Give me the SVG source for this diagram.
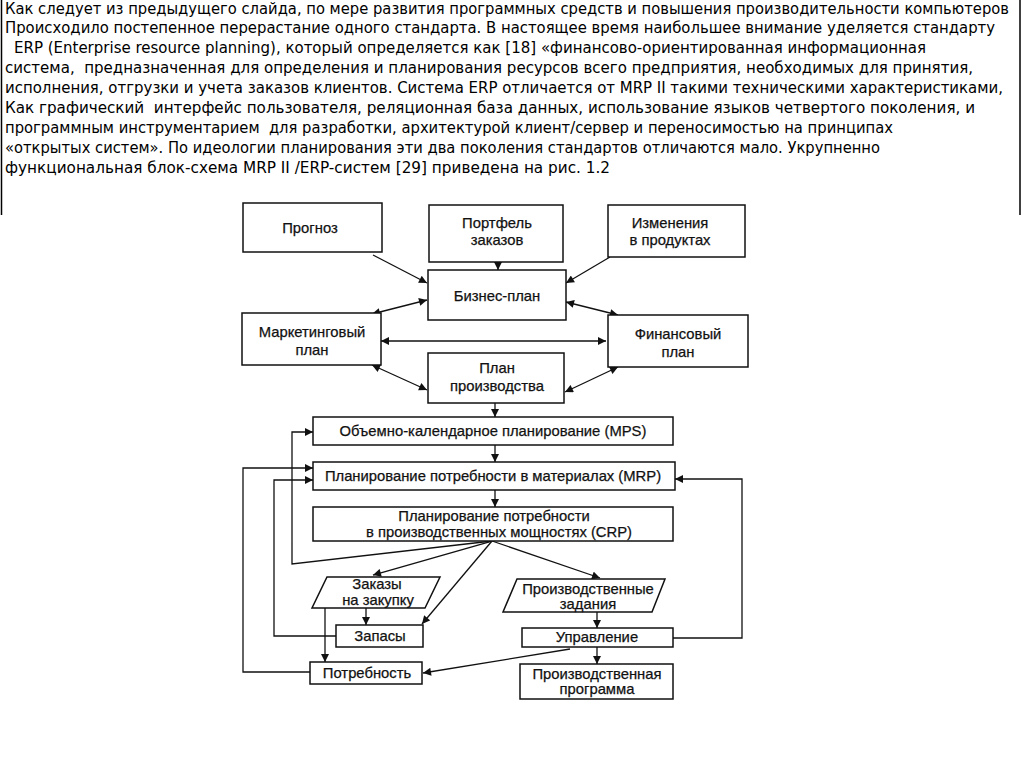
<svg xmlns="http://www.w3.org/2000/svg" width="1024" height="768" viewBox="0 0 1024 768">
<defs>
<style>
.p{font-family:"DejaVu Sans Condensed","Liberation Sans",sans-serif;font-stretch:condensed;font-size:15.5px;fill:#000}
.t{font-family:"Liberation Sans",Arial,sans-serif;font-size:14.8px;fill:#111;stroke:#111;stroke-width:0.25;text-anchor:middle}
.b{fill:#fff;stroke:#111;stroke-width:1.5}
.c{fill:none;stroke:#111;stroke-width:1.3}
</style>
<marker id="a" viewBox="0 0 10 10" refX="10" refY="5" markerWidth="9" markerHeight="8" markerUnits="userSpaceOnUse" orient="auto-start-reverse">
<path d="M0,0 L10,5 L0,10 z" fill="#111"/>
</marker>
</defs>
<rect width="1024" height="768" fill="#fff"/>
<g id="frame" stroke="#000" stroke-width="1.5">
<line x1="1.5" y1="0" x2="1.5" y2="215"/>
<line x1="1020" y1="0" x2="1020" y2="215"/>
</g>
<g id="paragraph">
<text class="p" x="5" y="14" textLength="1004" lengthAdjust="spacingAndGlyphs">Как следует из предыдущего слайда, по мере развития программных средств и повышения производительности компьютеров</text>
<text class="p" x="5" y="33" textLength="990" lengthAdjust="spacingAndGlyphs">Происходило постепенное перерастание одного стандарта. В настоящее время наибольшее внимание уделяется стандарту</text>
<text class="p" x="14" y="53" textLength="912" lengthAdjust="spacingAndGlyphs">ERP (Enterprise resource planning), который определяется как [18] «финансово-ориентированная информационная</text>
<text class="p" x="5" y="73" textLength="968" lengthAdjust="spacingAndGlyphs" xml:space="preserve">система,  предназначенная для определения и планирования ресурсов всего предприятия, необходимых для принятия,</text>
<text class="p" x="5" y="93" textLength="998" lengthAdjust="spacingAndGlyphs">исполнения, отгрузки и учета заказов клиентов. Система ERP отличается от MRP II такими техническими характеристиками,</text>
<text class="p" x="5" y="113" textLength="970" lengthAdjust="spacingAndGlyphs" xml:space="preserve">Как графический  интерфейс пользователя, реляционная база данных, использование языков четвертого поколения, и</text>
<text class="p" x="5" y="133" textLength="888" lengthAdjust="spacingAndGlyphs" xml:space="preserve">программным инструментарием  для разработки, архитектурой клиент/сервер и переносимостью на принципах</text>
<text class="p" x="5" y="153" textLength="875" lengthAdjust="spacingAndGlyphs">«открытых систем». По идеологии планирования эти два поколения стандартов отличаются мало. Укрупненно</text>
<text class="p" x="5" y="173" textLength="605" lengthAdjust="spacingAndGlyphs">функциональная блок-схема MRP II /ERP-систем [29] приведена на рис. 1.2</text>
</g>
<g id="connectors">
<line class="c" x1="373" y1="255" x2="427" y2="283" marker-end="url(#a)"/>
<line class="c" x1="498" y1="262" x2="498" y2="270" marker-end="url(#a)"/>
<line class="c" x1="610" y1="257" x2="566" y2="283" marker-end="url(#a)"/>
<line class="c" x1="427" y1="300" x2="372" y2="314" marker-start="url(#a)" marker-end="url(#a)"/>
<line class="c" x1="566" y1="302" x2="618" y2="315" marker-start="url(#a)" marker-end="url(#a)"/>
<line class="c" x1="381" y1="341" x2="606" y2="341" marker-start="url(#a)" marker-end="url(#a)"/>
<line class="c" x1="372" y1="365" x2="427" y2="390" marker-start="url(#a)" marker-end="url(#a)"/>
<line class="c" x1="618" y1="367" x2="565" y2="392" marker-start="url(#a)" marker-end="url(#a)"/>
<line class="c" x1="495" y1="403" x2="495" y2="417" marker-end="url(#a)"/>
<line class="c" x1="495" y1="445" x2="495" y2="462" marker-end="url(#a)"/>
<line class="c" x1="495" y1="490" x2="495" y2="507" marker-end="url(#a)"/>
<polyline class="c" points="492,541 292,564 292,432 313,432" marker-end="url(#a)"/>
<polyline class="c" points="310,672 243,672 243,468 313,468" marker-end="url(#a)"/>
<polyline class="c" points="336,636 274,636 274,480 313,480" marker-end="url(#a)"/>
<polyline class="c" points="673,638 742,638 742,479 675,479" marker-end="url(#a)"/>
<line class="c" x1="492" y1="541" x2="373" y2="575" marker-end="url(#a)"/>
<line class="c" x1="492" y1="541" x2="422" y2="624" marker-end="url(#a)"/>
<line class="c" x1="492" y1="541" x2="600" y2="578" marker-end="url(#a)"/>
<line class="c" x1="366" y1="608" x2="366" y2="625" marker-end="url(#a)"/>
<line class="c" x1="325" y1="608" x2="325" y2="662" marker-end="url(#a)"/>
<line class="c" x1="597" y1="612" x2="597" y2="628" marker-end="url(#a)"/>
<line class="c" x1="597" y1="647" x2="597" y2="664" marker-end="url(#a)"/>
<line class="c" x1="570" y1="649" x2="423" y2="673" marker-end="url(#a)"/>
</g>
<g id="n-prognoz"><rect class="b" x="243" y="203" width="139" height="49"/><text class="t" x="310" y="233">Прогноз</text></g>
<g id="n-portfel"><rect class="b" x="429" y="205" width="134" height="57"/><text class="t" x="497" y="228">Портфель</text><text class="t" x="497" y="245">заказов</text></g>
<g id="n-izmeneniya"><rect class="b" x="608" y="205" width="137" height="52"/><text class="t" x="670" y="228">Изменения</text><text class="t" x="670" y="245">в продуктах</text></g>
<g id="n-biznes"><rect class="b" x="428" y="270" width="138" height="50"/><text class="t" x="497" y="301">Бизнес-план</text></g>
<g id="n-marketing"><rect class="b" x="242" y="313" width="139" height="52"/><text class="t" x="312" y="337">Маркетинговый</text><text class="t" x="312" y="355">план</text></g>
<g id="n-finans"><rect class="b" x="608" y="315" width="140" height="52"/><text class="t" x="678" y="339">Финансовый</text><text class="t" x="678" y="357">план</text></g>
<g id="n-plan-proizv"><rect class="b" x="428" y="353" width="136" height="50"/><text class="t" x="497" y="373">План</text><text class="t" x="497" y="391">производства</text></g>
<g id="n-mps"><rect class="b" x="313" y="417" width="360" height="28"/><text class="t" x="493" y="436">Объемно-календарное планирование (MPS)</text></g>
<g id="n-mrp"><rect class="b" x="313" y="462" width="362" height="28"/><text class="t" x="493" y="481">Планирование потребности в материалах (MRP)</text></g>
<g id="n-crp"><rect class="b" x="313" y="507" width="360" height="34"/><text class="t" x="494" y="521">Планирование потребности</text><text class="t" x="499" y="537">в производственных мощностях (CRP)</text></g>
<g id="n-zakazy"><polygon class="b" points="327,577 440,577 425,608 312,608"/><text class="t" x="377" y="589">Заказы</text><text class="t" x="378" y="605">на закупку</text></g>
<g id="n-zadaniya"><polygon class="b" points="517,579 665,579 652,612 503,612"/><text class="t" x="588" y="594">Производственные</text><text class="t" x="588" y="609">задания</text></g>
<g id="n-zapasy"><rect class="b" x="336" y="625" width="87" height="22"/><text class="t" x="380" y="641">Запасы</text></g>
<g id="n-upravlenie"><rect class="b" x="522" y="628" width="151" height="19"/><text class="t" x="597" y="642">Управление</text></g>
<g id="n-potrebnost"><rect class="b" x="310" y="662" width="112" height="22"/><text class="t" x="367" y="678">Потребность</text></g>
<g id="n-programma"><rect class="b" x="520" y="664" width="153" height="35"/><text class="t" x="597" y="679">Производственная</text><text class="t" x="597" y="694">программа</text></g>
</svg>
